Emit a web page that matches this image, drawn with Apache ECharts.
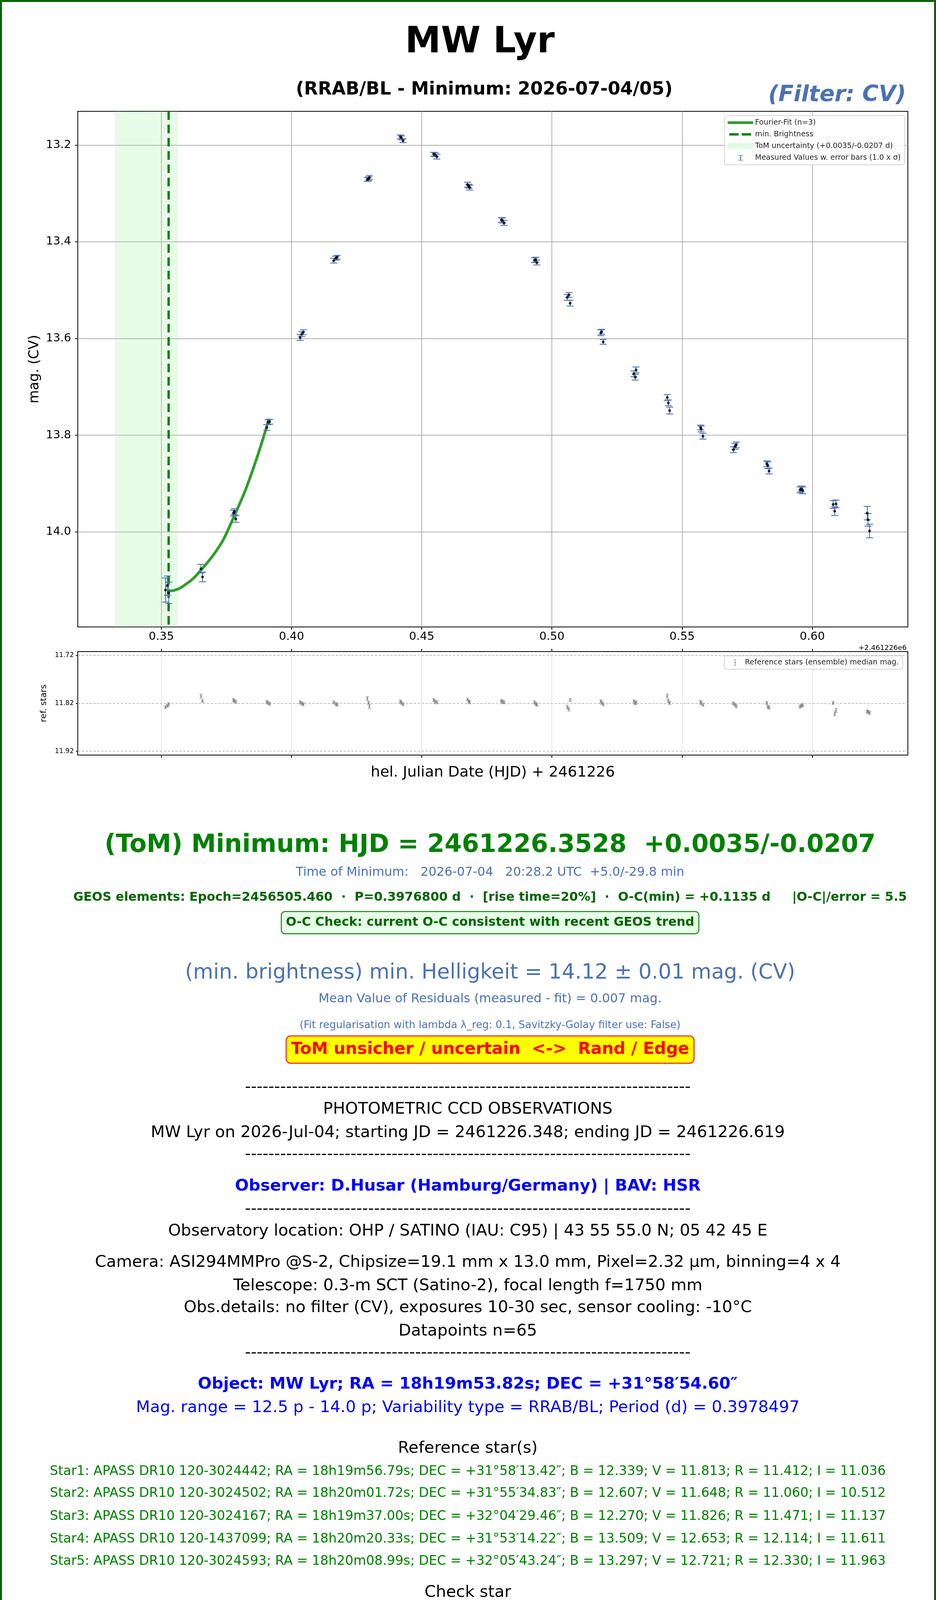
<!DOCTYPE html>
<html><head><meta charset="utf-8">
<script src="https://cdn.jsdelivr.net/npm/echarts@6/dist/echarts.min.js"></script>
<style>html,body{margin:0;padding:0;background:#fff}#c{width:2395px;height:4659px}</style>
</head><body><div id="c"></div>
<script>
// ---- data (HJD - 2461226) ----
const hjd = [0.3516,0.3523,0.3528, 0.3652,0.3658, 0.3777,0.3780,0.3786, 0.3905,0.3910,0.3916,
  0.4033,0.4039,0.4045, 0.4162,0.4170,0.4175, 0.4291,0.4296,0.4299, 0.4418,0.4422,0.4428,
  0.4546,0.4551,0.4558, 0.4676,0.4681,0.4684, 0.4806,0.4810,0.4816, 0.4933,0.4938,0.4942,
  0.5059,0.5065,0.5070, 0.5188,0.5191,0.5197, 0.5315,0.5323,0.5320, 0.5443,0.5447,0.5452,
  0.5571,0.5573,0.5580, 0.5697,0.5703,0.5708, 0.5825,0.5829,0.5834, 0.5953,0.5958,0.5963,
  0.6080,0.6091,0.6086, 0.6211,0.6214,0.6220];
const mag = [14.120,14.111,14.126, 14.076,14.093, 13.961,13.958,13.973, 13.784,13.773,13.772,
  13.598,13.591,13.587, 13.439,13.434,13.432, 13.271,13.270,13.267, 13.183,13.185,13.191,
  13.219,13.220,13.224, 13.282,13.285,13.288, 13.355,13.356,13.361, 13.438,13.437,13.443,
  13.515,13.510,13.527, 13.588,13.586,13.607, 13.673,13.665,13.680, 13.722,13.733,13.749,
  13.784,13.787,13.802, 13.830,13.823,13.820, 13.859,13.862,13.874, 13.913,13.911,13.914,
  13.943,13.942,13.957, 13.961,13.975,13.998];
const magErr = [0.025,0.020,0.022, 0.009,0.010, 0.006,0.006,0.007, 0.006,0.005,0.005,
  0.006,0.005,0.005, 0.005,0.004,0.004, 0.004,0.004,0.004, 0.004,0.004,0.004,
  0.004,0.004,0.005, 0.005,0.004,0.005, 0.005,0.005,0.005, 0.005,0.005,0.005,
  0.006,0.005,0.006, 0.006,0.005,0.005, 0.006,0.006,0.006, 0.006,0.006,0.007,
  0.005,0.006,0.006, 0.006,0.006,0.006, 0.006,0.007,0.006, 0.006,0.006,0.007,
  0.008,0.008,0.009, 0.014,0.013,0.014];
const refMag = [11.828,11.825,11.822, 11.805,11.815, 11.813,11.815,11.817, 11.817,11.819,11.821,
  11.818,11.820,11.822, 11.818,11.821,11.823, 11.810,11.819,11.826, 11.816,11.819,11.822,
  11.813,11.816,11.818, 11.812,11.816,11.818, 11.815,11.817,11.818, 11.818,11.821,11.823,
  11.828,11.832,11.813, 11.816,11.819,11.822, 11.816,11.818,11.820, 11.805,11.815,11.819,
  11.817,11.820,11.823, 11.820,11.823,11.826, 11.819,11.827,11.829, 11.827,11.825,11.824,
  11.819,11.835,11.842, 11.837,11.838,11.840];
const refErr = [0.003,0.003,0.003, 0.004,0.003, 0.003,0.003,0.003, 0.003,0.003,0.003,
  0.003,0.003,0.003, 0.003,0.003,0.003, 0.004,0.003,0.004, 0.003,0.003,0.003,
  0.003,0.003,0.003, 0.003,0.003,0.003, 0.003,0.003,0.003, 0.003,0.003,0.003,
  0.004,0.004,0.003, 0.003,0.003,0.003, 0.003,0.003,0.003, 0.004,0.003,0.003,
  0.003,0.003,0.003, 0.003,0.003,0.003, 0.003,0.003,0.003, 0.003,0.003,0.003,
  0.003,0.004,0.004, 0.003,0.003,0.003];
const fitHjd = [0.3528,0.3547,0.3568,0.3589,0.3621,0.3652,0.3695,0.3737,0.3779,0.3821,0.3863,0.3894,0.3913];
const fitMag = [14.122,14.121,14.117,14.110,14.097,14.079,14.051,14.017,13.968,13.916,13.853,13.801,13.766];
const tomHjd = 0.3528, tomPlus = 0.0035, tomMinus = 0.0207;
const xTicks = [0.35,0.40,0.45,0.50,0.55,0.60];
const yTicks = [13.2,13.4,13.6,13.8,14.0];
const refTicks = [11.72,11.82,11.92];
const X_MIN = 0.3179, X_MAX = 0.6367, Y_MIN = 13.1303, Y_MAX = 14.1964, R_MIN = 11.712, R_MAX = 11.928;

const F = '"DejaVu Sans", sans-serif';
const chart = echarts.init(document.getElementById('c'), null, {renderer:'canvas'});

function errRender(color, cap, lw) {
  return function (params, api) {
    const x = api.value(0), y = api.value(1), e = api.value(2);
    const p1 = api.coord([x, y - e]), p2 = api.coord([x, y + e]);
    const st = {stroke: color, lineWidth: lw};
    return {type:'group', children:[
      {type:'line', shape:{x1:p1[0], y1:p1[1], x2:p2[0], y2:p2[1]}, style:st},
      {type:'line', shape:{x1:p1[0]-cap, y1:p1[1], x2:p1[0]+cap, y2:p1[1]}, style:st},
      {type:'line', shape:{x1:p2[0]-cap, y1:p2[1], x2:p2[0]+cap, y2:p2[1]}, style:st}
    ]};
  };
}

const measured = hjd.map((x, i) => [x, mag[i], magErr[i]]);
const refData = hjd.map((x, i) => [x, refMag[i], refErr[i]]);
const fitData = fitHjd.map((x, i) => [x, fitMag[i]]);

const fitIcon = 'path://M0,0M65,16M0,4.5H65V11.5H0Z';
const dashIcon = 'path://M0,0M65,16M4,5H28V11H4ZM36,5H60V11H36Z';
const errIcon = 'path://M0,0M65,16M27,1H39V3H34V13H39V15H27V13H32V3H27ZM33,5.5A2.5,2.5,0,1,1,32.99,5.5Z';
const refIcon = 'path://M0,0M40,20M17,2H23V3.5H20.7V16.5H23V18H17V16.5H19.3V3.5H17ZM20,8A2,2,0,1,1,19.99,8Z';

function T(x, y, text, size, color, weight, extra) {
  const st = Object.assign({text: text, fontSize: size, fontFamily: F, fontWeight: weight || 'normal',
    fill: color, align: 'center', verticalAlign: 'middle'}, extra || {});
  return {type:'text', x: x, y: y, silent: true, style: st, z: 100};
}

const C1 = 1254, C2 = 1197;
const RS = 41.6, SS = 33.4;
const dashes = '-'.repeat(76);
const graphics = [
  {type:'rect', shape:{x:2.5, y:2.5, width:2390, height:4654}, style:{fill:null, stroke:'#006400', lineWidth:5}, z:200, silent:true},
  T(1228, 110, 'MW Lyr', 92, '#000', 'bold'),
  T(1239, 230, '(RRAB/BL - Minimum: 2026-07-04/05)', 46, '#000', 'bold'),
  T(2142, 244, '(Filter: CV)', 57, '#4c72b0', 'bold', {fontStyle:'italic'}),
  {type:'text', x:2320, y:1659, silent:true, style:{text:'+2.461226e6', fontSize:18, fontFamily:F, fill:'#000', align:'right', verticalAlign:'middle'}},
  T(C1, 2164, '(ToM) Minimum: HJD = 2461226.3528  +0.0035/-0.0207', 63.5, '#008000', 'bold'),
  T(C1, 2234, 'Time of Minimum:   2026-07-04   20:28.2 UTC  +5.0/-29.8 min', 32, '#4c72b0'),
  T(C1, 2298, 'GEOS elements: Epoch=2456505.460  \u00b7  P=0.3976800 d  \u00b7  [rise time=20%]  \u00b7  O-C(min) = +0.1135 d     |O-C|/error = 5.5', 31.7, '#006400', 'bold'),
  T(C1, 2362, 'O-C Check: current O-C consistent with recent GEOS trend', 31.8, '#006400', 'bold',
    {backgroundColor:'#e6ffe6', borderColor:'#3c8c3c', borderWidth:3, borderRadius:8, padding:[9,10], lineHeight:36}),
  T(C1, 2491, '(min. brightness) min. Helligkeit = 14.12 \u00b1 0.01 mag. (CV)', 53, '#4c72b0'),
  T(C1, 2558, 'Mean Value of Residuals (measured - fit) = 0.007 mag.', 32, '#4c72b0'),
  T(C1, 2625, '(Fit regularisation with lambda \u03bb_reg: 0.1, Savitzky-Golay filter use: False)', 26.4, '#4c72b0'),
  T(C1, 2687, 'ToM unsicher / uncertain  <->  Rand / Edge', 42.3, '#ff0000', 'bold',
    {backgroundColor:'#ffff00', borderColor:'#ff3030', borderWidth:3, borderRadius:10, padding:[9,11], lineHeight:49}),
  T(C2, 2784, dashes, RS, '#000'),
  T(C2, 2840, 'PHOTOMETRIC CCD OBSERVATIONS', RS, '#000'),
  T(C2, 2900, 'MW Lyr on 2026-Jul-04; starting JD = 2461226.348; ending JD = 2461226.619', RS, '#000'),
  T(C2, 2956, dashes, RS, '#000'),
  T(C2, 3037, 'Observer: D.Husar (Hamburg/Germany) | BAV: HSR', RS, '#0000ff', 'bold'),
  T(C2, 3096, dashes, RS, '#000'),
  T(C2, 3152, 'Observatory location: OHP / SATINO (IAU: C95) | 43 55 55.0 N; 05 42 45 E', RS, '#000'),
  T(C2, 3232, 'Camera: ASI294MMPro @S-2, Chipsize=19.1 mm x 13.0 mm, Pixel=2.32 \u00b5m, binning=4 x 4', RS, '#000'),
  T(C2, 3292, 'Telescope: 0.3-m SCT (Satino-2), focal length f=1750 mm', RS, '#000'),
  T(C2, 3348, 'Obs.details: no filter (CV), exposures 10-30 sec, sensor cooling: -10\u00b0C', RS, '#000'),
  T(C2, 3408, 'Datapoints n=65', RS, '#000'),
  T(C2, 3464, dashes, RS, '#000'),
  T(C2, 3544, 'Object: MW Lyr; RA = 18h19m53.82s; DEC = +31\u00b058\u203254.60\u2033', RS, '#0000ff', 'bold'),
  T(C2, 3604, 'Mag. range = 12.5 p - 14.0 p; Variability type = RRAB/BL; Period (d) = 0.3978497', RS, '#0000ff'),
  T(C2, 3708, 'Reference star(s)', RS, '#000'),
  T(C2, 3767, 'Star1: APASS DR10 120-3024442; RA = 18h19m56.79s; DEC = +31\u00b058\u203213.42\u2033; B = 12.339; V = 11.813; R = 11.412; I = 11.036', SS, '#008000'),
  T(C2, 3823, 'Star2: APASS DR10 120-3024502; RA = 18h20m01.72s; DEC = +31\u00b055\u203234.83\u2033; B = 12.607; V = 11.648; R = 11.060; I = 10.512', SS, '#008000'),
  T(C2, 3882, 'Star3: APASS DR10 120-3024167; RA = 18h19m37.00s; DEC = +32\u00b004\u203229.46\u2033; B = 12.270; V = 11.826; R = 11.471; I = 11.137', SS, '#008000'),
  T(C2, 3940, 'Star4: APASS DR10 120-1437099; RA = 18h20m20.33s; DEC = +31\u00b053\u203214.22\u2033; B = 13.509; V = 12.653; R = 12.114; I = 11.611', SS, '#008000'),
  T(C2, 3997, 'Star5: APASS DR10 120-3024593; RA = 18h20m08.99s; DEC = +32\u00b005\u203243.24\u2033; B = 13.297; V = 12.721; R = 12.330; I = 11.963', SS, '#008000'),
  T(C2, 4077, 'Check star', RS, '#000'),
  T(C2, 4138, 'Star6: APASS DR10 120-3024509; RA = 18h20m02.24s; DEC = +31\u00b058\u203206.36\u2033; B = 14.541; V = 13.972; R = 13.557; I = 13.168', SS, '#008000'),
  T(C2, 4218, 'Comp star(s)', RS, '#000'),
  T(C2, 4275, 'Star7: APASS DR10 120-3024384; RA = 18h19m52.91s; DEC = +32\u00b002\u203237.10\u2033; B = 14.308; V = 13.715; R = 13.296; I = 12.903', SS, '#008000'),
  T(C2, 4333, 'Star8: APASS DR10 120-1436269; RA = 18h19m47.85s; DEC = +31\u00b053\u203242.63\u2033; B = 13.759; V = 13.288; R = 12.894; I = 12.524', SS, '#008000'),
  T(C2, 4390, 'Star9: APASS DR10 120-3024053; RA = 18h19m27.76s; DEC = +32\u00b000\u203258.05\u2033; B = 12.551; V = 11.913; R = 11.439; I = 10.996', SS, '#008000'),
  T(C2, 4471, 'Star aperture: 4 pixels, 4.37 arcsec', 33, '#008000'),
  T(C2, 4553, '--- Result produced on 2026-07-05 09:21 h UT ---', 24, '#000', 'bold'),
  T(C2, 4610, '--- Image processing with Tycho v12.7 > Photometry w. Phoranso v1.1.2.0 > Fourier-Fit/Plot: HSR_tom_lib_v9-0 (or multi_extrema_v2-8) (c) D.Husar 2026/06 ---', 24, '#000', 'bold')
];

const axisTickStyle = {show:true, length:7, lineStyle:{color:'#000', width:2}};
const option = {
  animation: false,
  backgroundColor: '#fff',
  textStyle: {fontFamily: F},
  grid: [
    {left:199, top:285, width:2124, height:1320, show:true, borderColor:'#000', borderWidth:2, backgroundColor:'transparent'},
    {left:199, top:1668, width:2124, height:265, show:true, borderColor:'#000', borderWidth:2, backgroundColor:'transparent'}
  ],
  xAxis: [
    {type:'value', gridIndex:0, min:X_MIN, max:X_MAX, splitNumber:6,
      axisLine:{show:false}, axisTick:Object.assign({customValues:xTicks}, axisTickStyle),
      axisLabel:{customValues:xTicks, fontSize:29, color:'#000', margin:11, fontFamily:F,
        formatter: v => v.toFixed(2)},
      splitLine:{show:true, lineStyle:{color:'#b0b0b0', width:2}}},
    {type:'value', gridIndex:1, min:X_MIN, max:X_MAX, splitNumber:6, position:'bottom',
      axisLine:{show:false}, axisTick:Object.assign({customValues:xTicks}, axisTickStyle),
      axisLabel:{show:false},
      splitLine:{show:true, lineStyle:{color:'#dedede', width:1.5}},
      name:'hel. Julian Date (HJD) + 2461226', nameLocation:'middle', nameGap:26,
      nameTextStyle:{fontSize:38, color:'#000', fontFamily:F}},
    {type:'value', gridIndex:1, min:X_MIN, max:X_MAX, splitNumber:6, position:'top',
      axisLine:{show:false}, axisTick:Object.assign({customValues:xTicks}, axisTickStyle),
      axisLabel:{show:false}, splitLine:{show:false}}
  ],
  yAxis: [
    {type:'value', gridIndex:0, inverse:true, min:Y_MIN, max:Y_MAX, splitNumber:5,
      axisLine:{show:false}, axisTick:Object.assign({customValues:yTicks}, axisTickStyle),
      axisLabel:{customValues:yTicks, fontSize:29, color:'#000', margin:17, fontFamily:F,
        formatter: v => v.toFixed(1)},
      splitLine:{show:true, lineStyle:{color:'#b0b0b0', width:2}},
      name:'mag. (CV)', nameLocation:'middle', nameGap:92, nameTextStyle:{fontSize:35, color:'#000', fontFamily:F}},
    {type:'value', gridIndex:1, inverse:true, min:R_MIN, max:R_MAX,
      axisLine:{show:false}, axisTick:Object.assign({customValues:refTicks}, axisTickStyle, {length:5}),
      axisLabel:{customValues:refTicks, fontSize:17, color:'#000', margin:10, fontFamily:F,
        formatter: v => v.toFixed(2)},
      splitLine:{show:false},
      name:'ref. stars', nameLocation:'middle', nameGap:76, nameTextStyle:{fontSize:22, color:'#000', fontFamily:F}}
  ],
  legend: [
    {left:1854, top:296, orient:'vertical', itemWidth:65, itemHeight:16, itemGap:10, selectedMode:false,
      padding:[8,10,8,8], backgroundColor:'rgba(255,255,255,0.85)', borderColor:'#d4d4d4', borderWidth:2, borderRadius:6,
      textStyle:{fontSize:19, color:'#262626', fontFamily:F, lineHeight:20},
      data:[
        {name:'Fourier-Fit (n=3)', icon:fitIcon, itemStyle:{color:'#2ca02c', borderWidth:0}},
        {name:'min. Brightness', icon:dashIcon, itemStyle:{color:'#008000', borderWidth:0}},
        {name:'ToM uncertainty (+0.0035/-0.0207 d)', icon:'rect', itemStyle:{color:'rgba(144,238,144,0.25)', borderWidth:0}},
        {name:'Measured Values w. error bars (1.0 x \u03c3)', icon:errIcon, itemStyle:{color:'#4c72b0', borderWidth:0}}
      ]},
    {left:1853, top:1679, orient:'vertical', itemWidth:40, itemHeight:20, selectedMode:false,
      padding:[7,10,7,8], backgroundColor:'rgba(255,255,255,0.85)', borderColor:'#d4d4d4', borderWidth:2, borderRadius:6,
      textStyle:{fontSize:19, color:'#262626', fontFamily:F, lineHeight:20},
      data:[{name:'Reference stars (ensemble) median mag.', icon:refIcon, itemStyle:{color:'#808080', borderWidth:0}}]}
  ],
  series: [
    {type:'custom', name:'ToM uncertainty (+0.0035/-0.0207 d)', xAxisIndex:0, yAxisIndex:0, z:1, silent:true,
      data:[[tomHjd - tomMinus, tomHjd + tomPlus, Y_MIN]], encode:{x:[0,1], y:2},
      itemStyle:{color:'rgba(144,238,144,0.25)'},
      renderItem: function (params, api) {
        const a = api.coord([api.value(0), Y_MIN]), b = api.coord([api.value(1), Y_MIN]);
        const cs = params.coordSys;
        return {type:'rect', shape:{x:a[0], y:cs.y, width:b[0]-a[0], height:cs.height}, style:{fill:'rgba(144,238,144,0.22)'}};
      }},
    {type:'line', name:'Fourier-Fit (n=3)', xAxisIndex:0, yAxisIndex:0, data:fitData, smooth:0.3, symbol:'none', z:3,
      lineStyle:{color:'#2ca02c', width:7}, itemStyle:{color:'#2ca02c'}},
    {type:'line', name:'min. Brightness', xAxisIndex:0, yAxisIndex:0, data:[[tomHjd, Y_MIN], [tomHjd, Y_MAX]], symbol:'none', z:4,
      lineStyle:{color:'#008000', width:6, type:[22,12]}, itemStyle:{color:'#008000'}},
    {type:'custom', name:'errbars', xAxisIndex:0, yAxisIndex:0, data:measured, encode:{x:0, y:1}, z:5, silent:true,
      renderItem: errRender('#4c72b0', 9, 2.2)},
    {type:'scatter', name:'Measured Values w. error bars (1.0 x \u03c3)', xAxisIndex:0, yAxisIndex:0, z:6,
      data:measured.map(d => [d[0], d[1]]), symbol:'circle', symbolSize:7, itemStyle:{color:'#000'}},
    {type:'custom', name:'referr', xAxisIndex:1, yAxisIndex:1, data:refData, encode:{x:0, y:1}, z:5, silent:true,
      renderItem: errRender('#8a8a8a', 4, 1.5)},
    {type:'scatter', name:'Reference stars (ensemble) median mag.', xAxisIndex:1, yAxisIndex:1, z:6,
      data:refData.map(d => [d[0], d[1]]), symbol:'circle', symbolSize:5, itemStyle:{color:'#808080'},
      markLine:{silent:true, symbol:'none', label:{show:false}, lineStyle:{color:'#bdbdbd', width:2, type:[6,4]},
        data: refTicks.map(v => ({yAxis: v}))}}
  ],
  graphic: graphics
};
chart.setOption(option);
</script>
</body></html>
